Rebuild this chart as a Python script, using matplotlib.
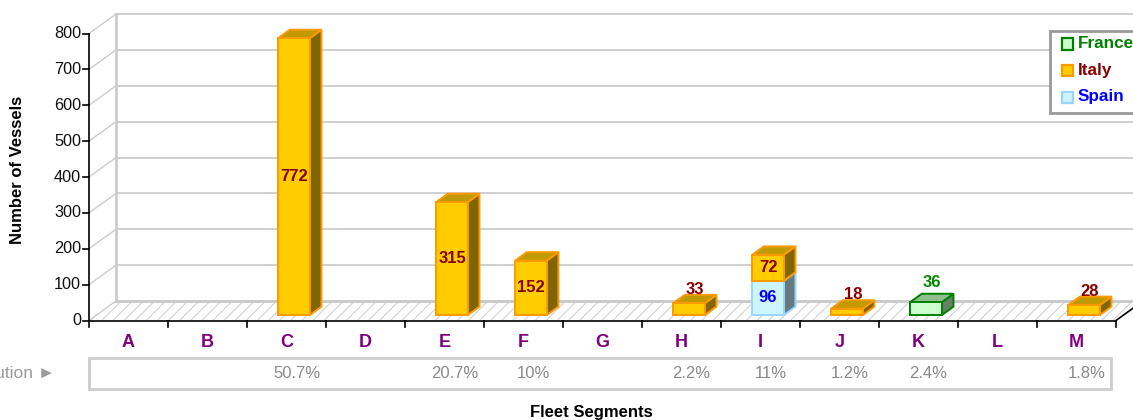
import matplotlib
matplotlib.use("Agg")
import matplotlib.pyplot as plt
from matplotlib.patches import Polygon, Rectangle

# ---------------- data ----------------
categories = ["A", "B", "C", "D", "E", "F", "G", "H", "I", "J", "K", "L", "M"]
italy = [0, 0, 772, 0, 315, 152, 0, 33, 72, 18, 0, 0, 28]
spain = [0, 0, 0, 0, 0, 0, 0, 0, 96, 0, 0, 0, 0]
france = [0, 0, 0, 0, 0, 0, 0, 0, 0, 0, 36, 0, 0]
y_ticks = [0, 100, 200, 300, 400, 500, 600, 700, 800]
series_names = ["France", "Italy", "Spain"]

# ---------------- style ----------------
FONT = ["Liberation Sans", "DejaVu Sans"]
plt.rcParams["font.family"] = FONT
plt.rcParams["hatch.color"] = "#d2d2d2"
plt.rcParams["hatch.linewidth"] = 0.8

styles = {
    "Italy": dict(face="#FFCC00", edge="#FF9900", top="#C09A00", side="#806600",
                  text="#880000", pad=1),
    "Spain": dict(face="#CCF5FF", edge="#99D6FF", top="#99B8BF", side="#667A80",
                  text="#0000EE", pad=1),
    "France": dict(face="#CCFFCC", edge="#008000", top="#8FBF8F", side="#668066",
                   text="#008800", pad=7),
}
legend_text = {"France": "#008000", "Italy": "#880000", "Spain": "#0000FF"}

W, H = 1133, 420
fig = plt.figure(figsize=(W / 100, H / 100), dpi=100)
ax = fig.add_axes([0, 0, 1, 1])
ax.set_axis_off()

# pixel layout of the plot frame
PX_X0 = 89.0      # left of front x axis
CAT_PX = 79.0     # px per category
PX_Y0 = 320.5     # y pixel (from top) of value 0
PX_PER_UNIT = 287.0 / 800.0

xl = -0.5 - PX_X0 / CAT_PX
ax.set_xlim(xl, xl + W / CAT_PX)
ax.set_ylim(-(H - PX_Y0) / PX_PER_UNIT, PX_Y0 / PX_PER_UNIT)

def px_x(p):   # pixel distance -> x data
    return p / CAT_PX

def px_y(p):   # pixel distance -> y data
    return p / PX_PER_UNIT

def fx(p):     # figure pixel -> figure fraction
    return p / W

def fy(p):
    return 1 - p / H

n = len(categories)
ymax = y_ticks[-1]
DX, DY = px_x(27), px_y(19.5)          # depth of the 3D frame
xr = n - 0.5
GRID = "#cccccc"

# back wall gridlines
for v in y_ticks[1:]:
    ax.plot([-0.5 + DX, ax.get_xlim()[1]], [v + DY, v + DY], color=GRID, lw=1.3, zorder=1)
    ax.plot([-0.5, -0.5 + DX], [v, v + DY], color=GRID, lw=1.0, zorder=1)
ax.plot([-0.5 + DX, -0.5 + DX], [DY, ymax + DY], color=GRID, lw=2, zorder=1)

# floor
floor = Polygon([(-0.5, 0), (-0.5 + DX, DY), (xr + DX, DY), (xr, 0)], closed=True,
                facecolor="white", edgecolor="#d2d2d2", hatch="///", lw=0, zorder=1)
ax.add_patch(floor)
ax.plot([-0.5 + DX, ax.get_xlim()[1]], [DY, DY], color="#c8c8c8", lw=2, zorder=1.5)
ax.plot([-0.5, -0.5 + DX], [0, DY], color=GRID, lw=1.0, zorder=1.5)

# front axes
ax.plot([-0.5, -0.5], [0, ymax], color="black", lw=1.2, zorder=5)
ax.plot([-0.5, xr], [0, 0], color="black", lw=1.2, zorder=5)
ax.plot([xr, xr + DX], [0, DY], color="black", lw=1.2, zorder=5)
for v in y_ticks:
    ax.plot([-0.5 - px_x(6), -0.5], [v, v], color="black", lw=1.2, zorder=5)
    ax.text(-0.5 - px_x(8), v, str(v), ha="right", va="center", fontsize=11.7, color="#111111")
for k in range(n + 1):
    ax.plot([k - 0.5, k - 0.5], [0, -px_y(6)], color="black", lw=1.2, zorder=5)
for i, c in enumerate(categories):
    ax.text(i, -px_y(22), c, ha="center", va="center", fontsize=13, fontweight="bold",
            color="#800080")

# 3D bars
BW = px_x(31.6)
FX, FY = 0.28 * DX, 0.28 * DY
BDX, BDY = 0.43 * DX, 0.43 * DY

def bar3d(i, base, val, st, z):
    x0 = i - BW / 2 + FX
    y0 = base + FY
    y1 = y0 + val
    kw = dict(closed=True, lw=1.4, edgecolor=st["edge"], zorder=z, joinstyle="miter")
    ax.add_patch(Polygon([(x0 + BW, y0), (x0 + BW + BDX, y0 + BDY),
                          (x0 + BW + BDX, y1 + BDY), (x0 + BW, y1)], facecolor=st["side"], **kw))
    ax.add_patch(Polygon([(x0, y1), (x0 + BW, y1), (x0 + BW + BDX, y1 + BDY),
                          (x0 + BDX, y1 + BDY)], facecolor=st["top"], **kw))
    ax.add_patch(Rectangle((x0, y0), BW, val, facecolor=st["face"], edgecolor=st["edge"],
                           lw=1.4, zorder=z, joinstyle="miter"))
    if val >= 50:
        ax.text(x0 + BW / 2, y0 + val / 2, str(val), ha="center", va="center",
                fontsize=12, fontweight="bold", color=st["text"], zorder=z + 0.5)
    else:
        ax.text(x0 + BW / 2 + BDX / 2, y1 + BDY + px_y(st["pad"]), str(val), ha="center",
                va="baseline", fontsize=12, fontweight="bold", color=st["text"], zorder=z + 0.5)

stack_order = [("Spain", spain), ("Italy", italy), ("France", france)]
for i in range(n):
    base = 0
    z = 10 + i
    for name, vals in stack_order:
        v = vals[i]
        if v > 0:
            bar3d(i, base, v, styles[name], z)
            base += v
            z += 0.1

# distribution row
totals = [italy[i] + spain[i] + france[i] for i in range(n)]
grand = sum(totals)
box_top, box_bot = -px_y(358 - PX_Y0), -px_y(389 - PX_Y0)
ax.add_patch(Rectangle((-0.5, box_bot), px_x(1111 - PX_X0), box_top - box_bot,
                       facecolor="none", edgecolor="#cccccc", lw=2, zorder=3))
ymid = (box_top + box_bot) / 2
for i, t in enumerate(totals):
    if t > 0:
        p = round(100 * t / grand, 1)
        s = (f"{p:.1f}".rstrip("0").rstrip(".")) + "%"
        ax.text(i + px_x(10), ymid, s, ha="center", va="center", fontsize=12, color="#8a8a8a")
ax.text(-0.5 - px_x(34), ymid, "Distribution \u25ba", ha="right", va="center",
        fontsize=12.5, color="#9a9a9a")

# axis titles
fig.text(fx(591), fy(417), "Fleet Segments", ha="center", va="baseline",
         fontsize=12, fontweight="bold")
fig.text(fx(18), fy(170), "Number of Vessels", ha="center", va="center",
         rotation=90, fontsize=12, fontweight="bold")

# legend (drawn as figure artists)
fig.patches.append(Rectangle((fx(1050), fy(113)), fx(1160) - fx(1050), fy(31) - fy(113),
                             transform=fig.transFigure, facecolor="white",
                             edgecolor="#999999", lw=2, zorder=50))
for k, s in enumerate(series_names):
    yc = 44 + k * 26.5
    fig.patches.append(Rectangle((fx(1062), fy(yc + 5.5)), fx(11), 11 / H,
                                 transform=fig.transFigure, facecolor=styles[s]["face"],
                                 edgecolor=styles[s]["edge"], lw=1.6, zorder=51))
    fig.text(fx(1078), fy(yc), s, ha="left", va="center", fontsize=12.3,
             fontweight="bold", color=legend_text[s], zorder=52)

fig.savefig("out.png", dpi=100)
